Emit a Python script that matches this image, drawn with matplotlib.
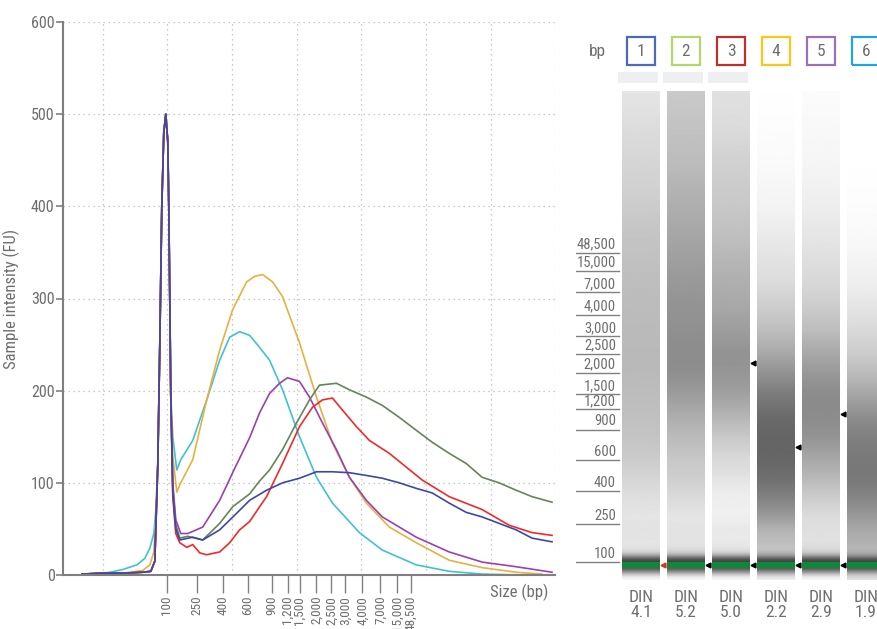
import numpy as np
import matplotlib
matplotlib.use('Agg')
import matplotlib.pyplot as plt
from matplotlib import font_manager
from matplotlib.patches import Rectangle

# condensed font if one is available, otherwise Roboto
names = {f.name for f in font_manager.fontManager.ttflist}
narrow = 'Roboto'
for cand in ['Roboto Condensed', 'Liberation Sans Narrow', 'Arial Narrow', 'Open Sans Condensed']:
    if cand in names:
        narrow = cand
        break
plt.rcParams['font.family'] = [narrow, 'DejaVu Sans']

TXT = '#6e6e6e'

# x axis of the electropherogram is in scan points (migration), ladder maps bp -> scan
ladder_bp = ['100', '250', '400', '600', '900', '1,200', '1,500', '2,000', '2,500',
             '3,000', '4,000', '7,000', '15,000', '48,500']
ladder_scan = [104, 134, 160, 185, 209, 225, 237, 254, 269, 283, 300, 318, 335, 349]
grid_scan = [40, 104, 169, 234, 299, 364, 429, 493]

# common part: lower marker peak
peak_x = [95, 97, 99, 101, 103, 105, 106, 107, 108]
peak_y = [120, 250, 400, 480, 500, 470, 400, 300, 195]

s1_x = [19, 40, 60, 80, 88, 92] + peak_x + [110, 113, 117, 130, 140, 157, 174, 187, 204, 220, 237, 254,
        270, 287, 304, 320, 337, 354, 370, 387, 404, 420, 437, 454, 470, 490]
s1_y = [1, 2, 2, 3, 4, 15] + peak_y + [90, 50, 38, 41, 38, 49, 67, 81, 92, 100, 105, 112,
        112, 111, 108, 105, 100, 94, 89, 78, 68, 63, 56, 49, 40, 36]

s2_x = [19, 40, 60, 80, 88, 92] + peak_x + [110, 113, 117, 125, 140, 157, 170, 187, 197, 207, 220, 234,
        247, 257, 274, 287, 304, 320, 337, 354, 370, 387, 404, 420, 437, 454, 470, 490]
s2_y = [1, 2, 2, 3, 4, 15] + peak_y + [95, 55, 40, 42, 38, 56, 74, 88, 102, 114, 136, 165,
        190, 206, 208, 201, 193, 184, 171, 157, 144, 132, 121, 106, 100, 92, 85, 79]

s3_x = [19, 40, 60, 80, 88, 92] + peak_x + [110, 113, 117, 124, 130, 137, 144, 157, 167, 177, 187, 197,
        204, 220, 237, 250, 260, 270, 280, 294, 307, 327, 344, 360, 387, 420, 447, 470, 490]
s3_y = [1, 2, 2, 3, 4, 15] + peak_y + [85, 45, 35, 30, 33, 24, 22, 25, 35, 49, 58, 74,
        85, 121, 161, 182, 190, 192, 179, 161, 146, 132, 117, 103, 85, 71, 54, 46, 43]

s4_x = [19, 40, 60, 80, 87, 91, 93] + peak_x + [110, 114, 118, 130, 144, 157, 170, 184, 192, 200, 210,
        220, 237, 254, 270, 287, 304, 327, 354, 387, 420, 454, 480]
s4_y = [1, 2, 2, 5, 11, 25, 60] + peak_y + [130, 90, 100, 125, 190, 244, 288, 318, 324, 326, 318,
        302, 252, 193, 143, 106, 78, 52, 35, 16, 8, 3, 1]

s5_x = [19, 40, 60, 80, 88, 92] + peak_x + [110, 113, 118, 125, 140, 157, 170, 187, 197, 207, 217, 225,
        237, 247, 260, 274, 287, 304, 320, 354, 387, 420, 454, 490]
s5_y = [1, 2, 2, 3, 4, 15] + peak_y + [100, 60, 45, 45, 52, 81, 111, 149, 176, 197, 208, 214,
        210, 193, 165, 136, 106, 81, 63, 41, 25, 14, 9, 3]

s6_x = [19, 40, 47, 60, 74, 82, 87, 91, 93] + peak_x + [110, 114, 118, 130, 144, 157, 167, 177, 187,
        197, 207, 220, 237, 254, 270, 297, 320, 354, 387, 420, 460]
s6_y = [1, 2, 3, 6, 11, 18, 29, 45, 70] + peak_y + [150, 114, 125, 146, 190, 233, 258, 264, 260,
        247, 233, 201, 150, 106, 78, 46, 27, 11, 4, 1, 0]

lane_x = [s1_x, s2_x, s3_x, s4_x, s5_x, s6_x]
lane_y = [s1_y, s2_y, s3_y, s4_y, s5_y, s6_y]
lane_names = ['1', '2', '3', '4', '5', '6']
din = ['4.1', '5.2', '5.0', '2.2', '2.9', '1.9']
line_colors = ['#3b48a8', '#66845a', '#f02a2a', '#e8b040', '#9b3fb5', '#40c2d2']
box_colors = ['#4a6cb0', '#b4d66a', '#c0302a', '#f8c81a', '#9a70b8', '#1fa5e0']

# peak call markers in the gel (lane, scan)
calls = [(3, 262), (4, 195), (5, 221)]
lower_marker = 101.6

fig = plt.figure(figsize=(8.78, 6.29), dpi=100)

# ---------------- electropherogram ----------------
ax = fig.add_axes([63 / 878, 54 / 629, 492 / 878, 553 / 629])
for i in [5, 3, 4, 1, 2, 0]:
    ax.plot(lane_x[i], lane_y[i], color=line_colors[i], lw=1.2)

ax.set_xlim(0, 493)
ax.set_ylim(0, 600)
for g in grid_scan:
    ax.axvline(g, color='#b8b8b8', lw=0.9, ls=(0, (1, 3)), zorder=0)
for v in range(100, 700, 100):
    ax.axhline(v, color='#b8b8b8', lw=0.9, ls=(0, (1, 3)), zorder=0)

ax.set_xticks(ladder_scan)
ax.set_xticklabels(ladder_bp, rotation=90, fontsize=9.5, color=TXT)
ax.tick_params(axis='x', length=13, width=1, color='#808080', pad=2)
ax.set_yticks(range(0, 700, 100))
ax.tick_params(axis='y', length=5, width=1.2, color='#808080', labelsize=11.5, labelcolor=TXT, pad=1)
for s in ['top', 'right']:
    ax.spines[s].set_visible(False)
for s in ['left', 'bottom']:
    ax.spines[s].set_color('#7f7f7f')
    ax.spines[s].set_linewidth(1.5)
ax.set_ylabel('Sample intensity (FU)', fontsize=12, color=TXT)
ax.yaxis.set_label_coords(-0.087, 0.5)
ax.text(0.986, -0.031, 'Size (bp)', transform=ax.transAxes, ha='right', va='center',
        fontsize=12, color=TXT)

# ---------------- gel image ----------------
gx = fig.add_axes([576 / 878, 49 / 629, 302 / 878, 489 / 629])
gx.set_xlim(-0.444, 6.267)
gx.set_ylim(89.7, 477.5)
gx.axis('off')

scan = np.linspace(89.7, 477.5, 800)
step = scan[1] - scan[0]
k = np.arange(-12, 13) * step
kern = np.exp(-0.5 * (k / 1.6) ** 2)
kern /= kern.sum()
half = 0.422
bt = gx.get_xaxis_transform()
for i in range(6):
    c = i + 1
    fu = np.interp(scan, lane_x[i], lane_y[i])
    fu = np.convolve(np.pad(fu, 12, mode='edge'), kern, mode='valid')
    shade = np.exp(-fu / 350.0)
    gx.imshow(shade[:, None], extent=(c - half, c + half, 89.7, 477.5), origin='lower',
              aspect='auto', cmap='gray', vmin=0, vmax=1, interpolation='bilinear')
    gx.add_patch(Rectangle((c - half, lower_marker - 2.6), 2 * half, 5.2, color='#10883a', lw=0))
    gx.plot(c + half + 0.06, lower_marker, marker='<', ms=3.5,
            color='#e03020' if i == 0 else 'black', clip_on=False)
    # number boxes and DIN values
    gx.add_patch(Rectangle((c - 0.32, 1.053), 0.64, 0.057, transform=bt, fill=False,
                           edgecolor=box_colors[i], lw=1.6, clip_on=False))
    gx.text(c, 1.081, lane_names[i], transform=bt, ha='center', va='center', fontsize=12.5,
            color=TXT, clip_on=False)
    gx.text(c, -0.052, 'DIN\n' + din[i], transform=bt, ha='center', va='center', fontsize=12.5,
            color=TXT, linespacing=1.0, clip_on=False)
    if i < 3:
        gx.add_patch(Rectangle((c - 0.511, 1.016), 0.889, 0.023, transform=bt,
                               color='#eeeff1', lw=0, clip_on=False))

gx.set_xlim(-0.444, 6.267)
for lane, pos in calls:
    gx.plot(lane + half + 0.06, pos, marker='<', ms=3.5, color='black', clip_on=False)

for lab, pos in zip(ladder_bp, ladder_scan):
    gx.plot([-0.444, 0.511], [pos, pos], color='#808080', lw=1)
    gx.text(0.444, pos + 1.0, lab, ha='right', va='bottom', fontsize=10.5, color=TXT)

gx.text(0.03, 1.081, 'bp', transform=bt, ha='center', va='center', fontsize=12.5, color=TXT)

plt.savefig('out.png', dpi=100)
